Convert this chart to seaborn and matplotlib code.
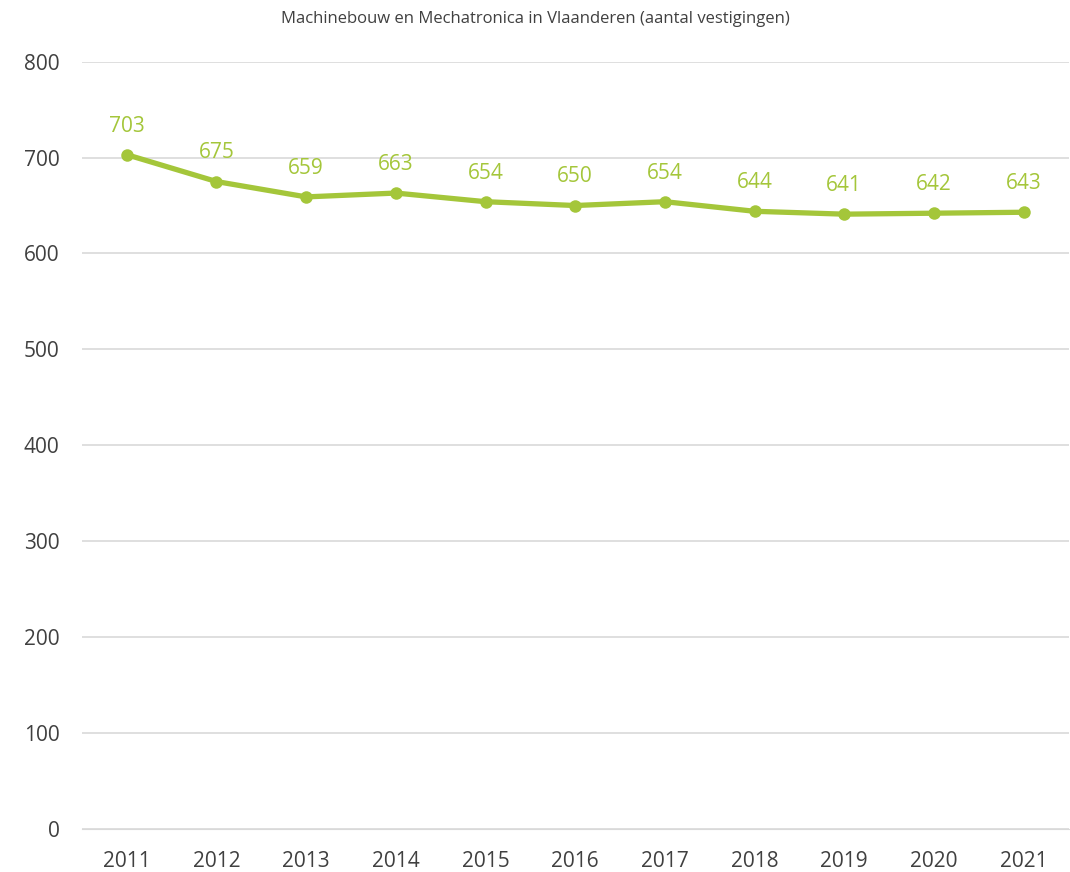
import numpy as np
import pandas as pd
import matplotlib
matplotlib.use("Agg")
import matplotlib.pyplot as plt
import seaborn as sns

years = ["2011", "2012", "2013", "2014", "2015", "2016", "2017", "2018", "2019", "2020", "2021"]
vestigingen = [703, 675, 659, 663, 654, 650, 654, 644, 641, 642, 643]
yticks = [0, 100, 200, 300, 400, 500, 600, 700, 800]

df = pd.DataFrame({"jaar": years, "aantal": vestigingen})

sns.set_style("white")
plt.rcParams["font.family"] = ["Open Sans", "DejaVu Sans"]

green = "#A4C63A"
fig = plt.figure(figsize=(10.7, 8.72), dpi=100)
ax = fig.add_axes([0.0766, 0.0493, 0.922, 0.880])

sns.lineplot(data=df, x="jaar", y="aantal", ax=ax, color=green, linewidth=3.8,
             marker="o", markersize=9, markeredgewidth=0, sort=False)

for i, v in enumerate(vestigingen):
    ax.annotate(str(v), (i, v), xytext=(0, 13), textcoords="offset points",
                ha="center", va="bottom", color=green, fontsize=15)

ax.set_ylim(0, 800)
ax.set_xlim(-0.5, 10.5)
ax.set_yticks(yticks)
ax.yaxis.grid(True, color="#D9D9D9", linewidth=1.2)
ax.set_axisbelow(True)
for s in ax.spines.values():
    s.set_visible(False)
ax.spines["bottom"].set_visible(True)
ax.spines["bottom"].set_color("#D9D9D9")
ax.tick_params(axis="both", length=0, labelsize=15, colors="#404040")
ax.tick_params(axis="x", pad=16)
ax.tick_params(axis="y", pad=16)
ax.set_xlabel("")
ax.set_ylabel("")
fig.suptitle("Machinebouw en Mechatronica in Vlaanderen (aantal vestigingen)",
             y=0.987, fontsize=12, color="#404040")

fig.savefig("out.png", dpi=100)
